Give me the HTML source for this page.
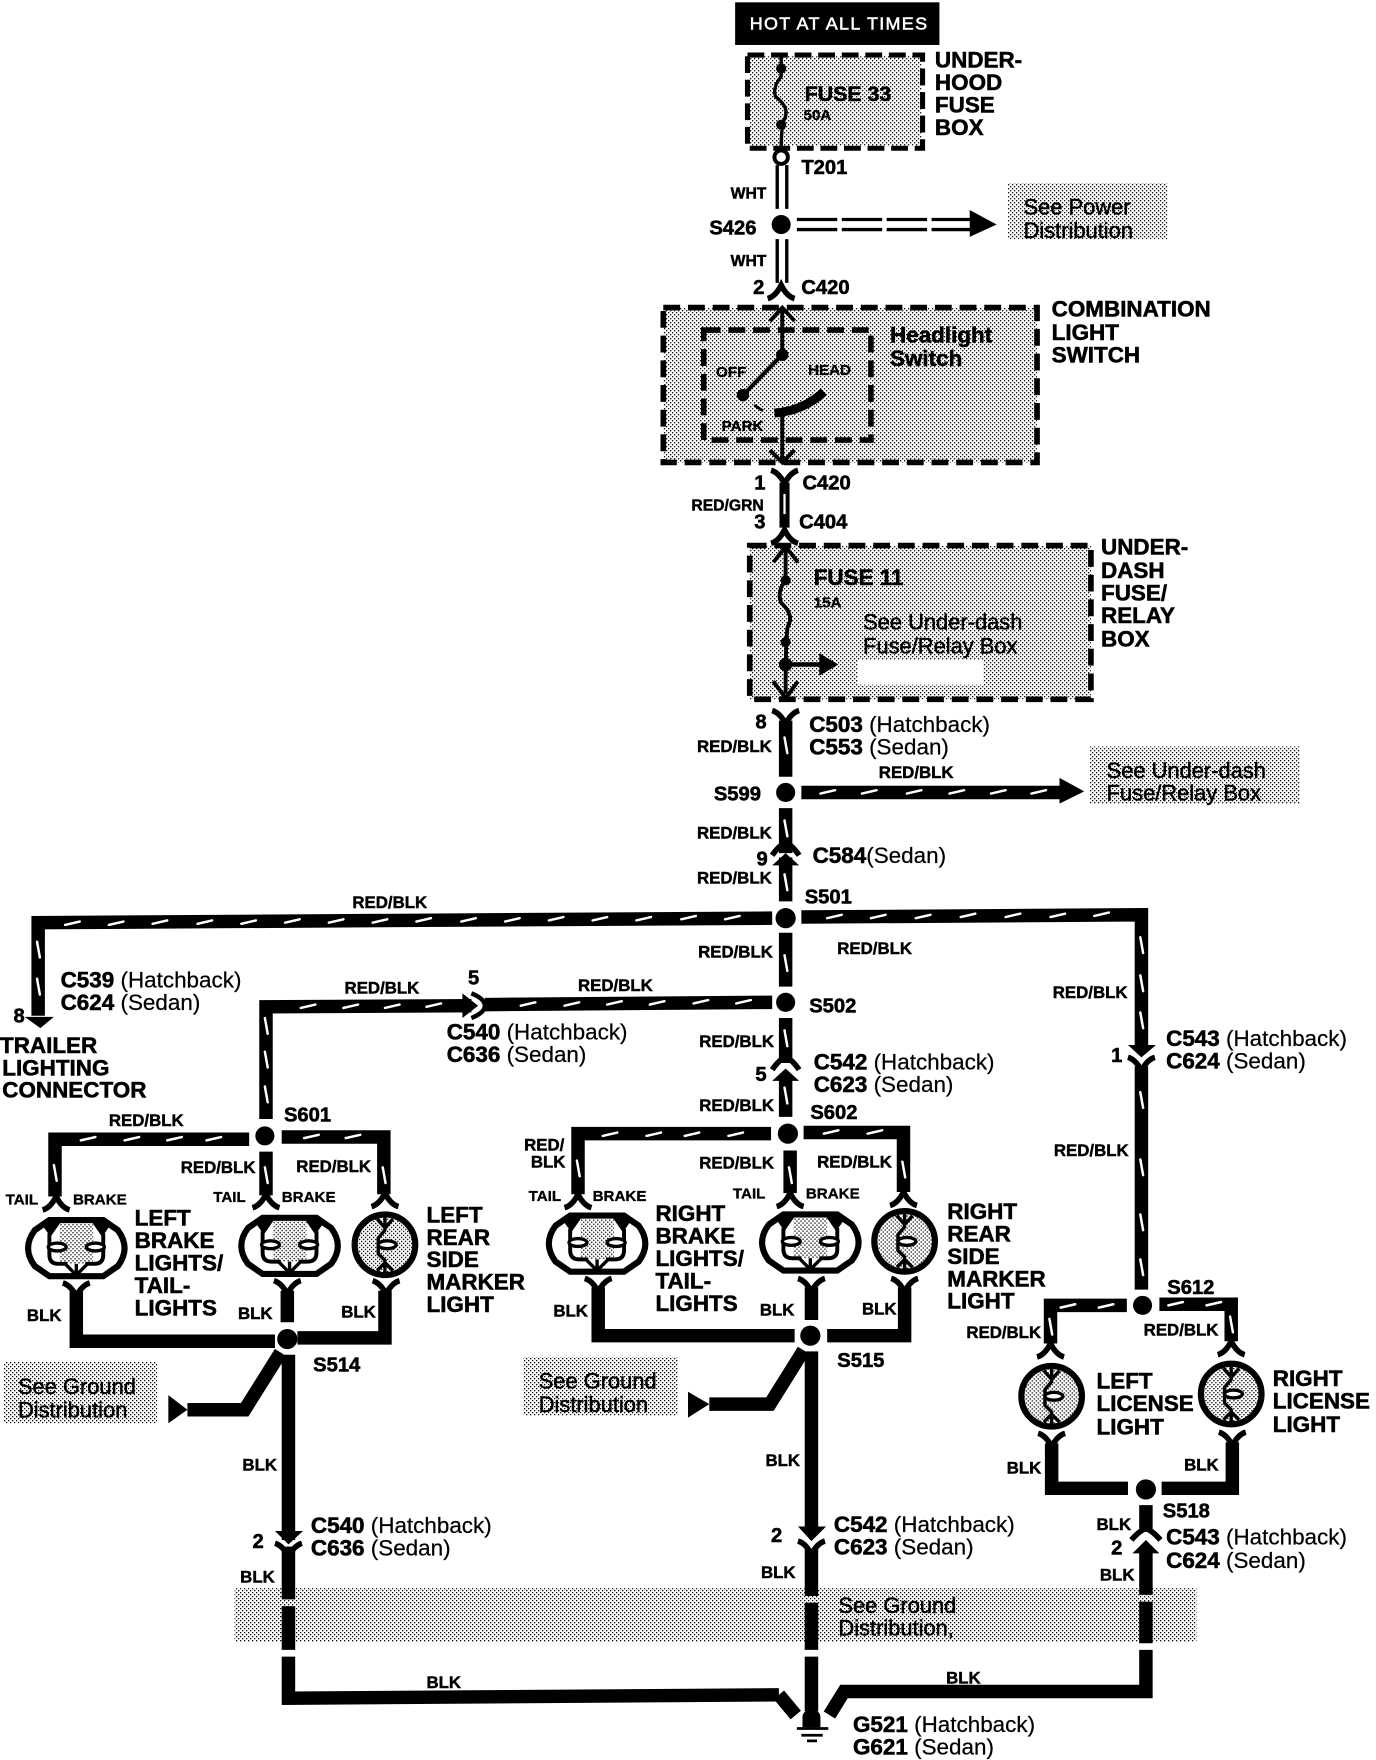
<!DOCTYPE html>
<html><head><meta charset="utf-8"><style>
html,body{margin:0;padding:0;background:#fff;width:1376px;height:1760px;overflow:hidden}
svg{display:block}
text{font-family:"Liberation Sans",sans-serif;fill:#000;stroke:#000}
.h{font-size:20px;font-weight:bold;stroke-width:.5}
.c{font-size:20px;font-weight:bold;stroke-width:.5}
.c tspan{font-weight:normal;stroke-width:.2}
.l{font-size:15px;font-weight:bold;stroke-width:.4}
.s{font-size:19.5px;stroke-width:.45}
.t{font-size:13.5px;font-weight:bold;stroke-width:.3}
.w{fill:none;stroke:#000;stroke-width:12;stroke-linejoin:miter}
.dd{fill:none;stroke:#fff;stroke-width:2.2;stroke-linecap:round}
.fl{fill:#000;stroke:none}
</style></head><body>
<svg width="1376" height="1760" viewBox="0 0 1226 1568" xmlns="http://www.w3.org/2000/svg">
<defs>
<pattern id="d" patternUnits="userSpaceOnUse" width="3.5638" height="3.5638">
<rect x="0" y="0" width="1.15" height="1.15" fill="#000"/>
<rect x="1.782" y="1.782" width="1.15" height="1.15" fill="#000"/>
</pattern>
<path id="yd" d="M-12-9Q-5-7 0 3Q5-7 12-9" fill="none" stroke="#000" stroke-width="5"/>
<path id="yu" d="M-12 9Q-5 7 0-3Q5 7 12 9" fill="none" stroke="#000" stroke-width="5"/>
<g id="lamp2">
<path d="M-24-25H24L37-16Q43-8 43 0Q43 8 37 16L24 25H-24L-37 16Q-43 8-43 0Q-43-8-37-16Z" fill="#fff" stroke="#000" stroke-width="5.500"/>
<rect x="-15" y="-22" width="30" height="36" fill="url(#d)"/>
<path d="M-24-13V6Q-24 14-16 14H-8M8 14H16Q24 14 24 6V-13" fill="none" stroke="#000" stroke-width="3.500"/>
<path d="M-32-23H-14L-23-10ZM14-23H32L23-10Z" class="fl"/>
<path d="M-10 14L0 24 10 14M0 14V24" fill="none" stroke="#000" stroke-width="3"/>
<ellipse cx="-17" cy="-1" rx="8" ry="3.500" fill="#fff" stroke="#000" stroke-width="3"/>
<ellipse cx="17" cy="-1" rx="8" ry="3.500" fill="#fff" stroke="#000" stroke-width="3"/>
</g>
<g id="lamp1">
<circle r="27" fill="url(#d)" stroke="#000" stroke-width="5.500"/>
<path d="M0-26V-13L-6-6V8L0 14V26M-7-23L0-15 7-23M-7 23L0 16 7 23" fill="none" stroke="#000" stroke-width="3"/>
<ellipse cx="2" cy="0" rx="8" ry="3.500" fill="#fff" stroke="#000" stroke-width="3"/>
</g>
</defs>

<!-- shaded boxes -->
<rect x="668" y="50" width="153" height="80" fill="url(#d)"/>
<rect x="898" y="163" width="142" height="50" fill="url(#d)"/>
<rect x="591" y="274" width="333" height="138" fill="url(#d)"/>
<rect x="668" y="486" width="304" height="137" fill="url(#d)"/>
<rect x="764" y="588" width="112" height="22" fill="#fff"/>
<rect x="971" y="665" width="187" height="51" fill="url(#d)"/>
<rect x="3" y="1213" width="137" height="55" fill="url(#d)"/>
<rect x="466" y="1209" width="138" height="52" fill="url(#d)"/>
<rect x="209" y="1415" width="857" height="48" fill="url(#d)"/>

<!-- top -->
<rect x="655" y="2" width="182" height="38" fill="#000"/>
<text x="668" y="26" font-size="16" textLength="158" lengthAdjust="spacing" style="fill:#fff;stroke:#fff;stroke-width:.5">HOT AT ALL TIMES</text>
<rect x="666" y="49" width="156" height="83" fill="none" stroke="#000" stroke-width="4.500" stroke-dasharray="15 6"/>
<path d="M696 49V68Q688 78 691 86Q704 96 699 106Q696 112 696 134" fill="none" stroke="#000" stroke-width="3"/>
<circle cx="696" cy="61" r="4.500" class="fl"/><circle cx="696" cy="111" r="4.500" class="fl"/>
<circle cx="696" cy="140" r="6" fill="#fff" stroke="#000" stroke-width="3.500"/>
<path d="M692.500 147V186M701 147V186M692.500 213V252M701 213V252" fill="none" stroke="#000" stroke-width="3"/>
<circle cx="696" cy="200" r="8.500" class="fl"/>
<path d="M710 195.500H866M710 204.500H866" fill="none" stroke="#000" stroke-width="3" stroke-dasharray="36 4"/>
<path d="M864 187L888 200 864 211Z" class="fl"/>
<use href="#yu" x="696" y="257"/>

<!-- combination switch -->
<rect x="591" y="274" width="333" height="138" fill="none" stroke="#000" stroke-width="5" stroke-dasharray="15 7"/>
<rect x="627" y="294" width="149" height="98" fill="none" stroke="#000" stroke-width="5" stroke-dasharray="15 7"/>
<path d="M697 276V316L662 352" fill="none" stroke="#000" stroke-width="3.500"/>
<path d="M686 286L697 274 708 286" fill="none" stroke="#000" stroke-width="3.500"/>
<circle cx="697" cy="316" r="5.500" class="fl"/><circle cx="662" cy="352" r="5.500" class="fl"/>
<path d="M690 368Q716 366 734 349" fill="none" stroke="#000" stroke-width="8"/>
<path d="M672 361L680 366" fill="none" stroke="#000" stroke-width="2.500"/>
<path d="M697 366V412M686 401L697 412 708 401" fill="none" stroke="#000" stroke-width="3.500"/>
<use href="#yd" x="699" y="428"/>
<path d="M699 430V470" fill="none" stroke="#000" stroke-width="9"/>
<path d="M699 440V458" stroke="#fff" stroke-width="2"/>
<use href="#yu" x="699" y="475"/>

<!-- under-dash -->
<rect x="668" y="486" width="304" height="137" fill="none" stroke="#000" stroke-width="5" stroke-dasharray="15 7"/>
<path d="M700 490V517Q692 527 696 537Q708 548 702 558Q700 565 700 618M689 501L700 487 711 501M689 607L700 622 711 607" fill="none" stroke="#000" stroke-width="3.500"/>
<circle cx="700" cy="517" r="4.500" class="fl"/><circle cx="700" cy="572" r="4.500" class="fl"/><circle cx="700" cy="592" r="6" class="fl"/>
<path d="M700 592H730" stroke="#000" stroke-width="4"/>
<path d="M730 582L747 592 730 602Z" class="fl"/>

<!-- main trunk -->
<use href="#yd" x="700" y="642"/>
<path class="w" d="M700 642V692M700 720V760M700 764V803M700 831V879M700 907V947M700 959V995"/>
<path d="M688 762Q695 752 700 751Q705 752 712 762" fill="none" stroke="#000" stroke-width="5"/>
<path d="M688 771L700 760 712 771Z" class="fl"/>
<path d="M688 953Q695 943 700 942Q705 943 712 953" fill="none" stroke="#000" stroke-width="5"/>
<path d="M688 963L700 952 712 963Z" class="fl"/>
<circle cx="700" cy="706" r="8.500" class="fl"/>
<circle cx="700" cy="818" r="9" class="fl"/>
<circle cx="700" cy="893" r="8.500" class="fl"/>
<circle cx="702" cy="1010" r="9" class="fl"/>

<!-- S599 branch -->
<path class="w" d="M714 706H946"/>
<path d="M944 693L966 705 944 716Z" class="fl"/>

<!-- S501 branches -->
<path class="w" d="M688 818L34 822V905"/>
<path d="M22 906H48L36 916Z" class="fl"/>
<path class="w" d="M714 817L1017 815V932"/>
<path d="M1005 931H1030L1017 942Z" class="fl"/>
<use href="#yd" x="1017" y="951"/>
<path class="w" d="M1017 950V1149"/>

<!-- S502 branch -->
<path class="w" d="M688 893L432 895M420 896L237 897V997"/>
<path d="M412 885L426 896 412 907Z" class="fl"/>
<path d="M420 885Q432 890 432 896Q432 902 420 907" fill="none" stroke="#000" stroke-width="4"/>

<!-- S601 -->
<circle cx="236" cy="1012" r="8.500" class="fl"/>
<path class="w" d="M222 1015H49V1066"/>
<path class="w" d="M251 1013H342V1064"/>
<path class="w" d="M237 1026V1065"/>
<use href="#yu" x="50" y="1069"/><use href="#yu" x="237" y="1067"/><use href="#yu" x="343" y="1066"/>
<use href="#lamp2" x="68" y="1112"/><use href="#lamp2" x="258" y="1110"/><use href="#lamp1" x="343" y="1109"/>
<use href="#yd" x="68" y="1152"/><use href="#yd" x="256" y="1150"/><use href="#yd" x="344" y="1150"/>

<!-- S514 -->
<path class="w" d="M68 1150V1195H245M256 1150V1178M343 1150V1192H265"/>
<circle cx="256" cy="1193" r="9" class="fl"/>
<path class="w" d="M250 1205L218 1256H167M257 1207V1372M257 1378V1425M257 1431V1470M257 1476V1513L694 1510"/>
<path d="M150 1243L167 1256 150 1268Z" class="fl"/>
<path d="M245 1364H270L257 1376Z" class="fl"/>
<use href="#yd" x="257" y="1384"/>

<!-- S602 -->
<path class="w" d="M687 1010H515V1064"/>
<path class="w" d="M716 1009H805V1062"/>
<path class="w" d="M704 1025V1063"/>
<use href="#yu" x="515" y="1067"/><use href="#yu" x="704" y="1066"/><use href="#yu" x="805" y="1065"/>
<use href="#lamp2" x="532" y="1108"/><use href="#lamp2" x="722" y="1107"/><use href="#lamp1" x="806" y="1106"/>
<use href="#yd" x="533" y="1148"/><use href="#yd" x="723" y="1148"/><use href="#yd" x="806" y="1148"/>

<!-- S515 -->
<path class="w" d="M533 1147V1190H708M723 1147V1176M806 1147V1190H737"/>
<circle cx="722" cy="1190" r="9" class="fl"/>
<path class="w" d="M716 1203L686 1251H632M723 1204V1366M723 1380V1422M723 1428V1470M723 1476V1525"/>
<path d="M613 1240L632 1251 613 1263Z" class="fl"/>
<path d="M711 1360H736L723 1373Z" class="fl"/>
<use href="#yd" x="723" y="1382"/>

<!-- S612 -->
<circle cx="1018" cy="1163" r="8.500" class="fl"/>
<path class="w" d="M1004 1163H936V1197"/>
<path class="w" d="M1033 1162H1097V1195"/>
<use href="#yu" x="936" y="1200"/><use href="#yu" x="1097" y="1198"/>
<use href="#lamp1" x="937" y="1244"/><use href="#lamp1" x="1097" y="1242"/>
<use href="#yd" x="937" y="1286"/><use href="#yd" x="1098" y="1285"/>
<path class="w" d="M937 1286V1326H1005M1098 1285V1326H1035"/>
<circle cx="1021" cy="1327" r="9" class="fl"/>
<path class="w" d="M1021 1341V1362M1021 1380V1421M1021 1427V1464M1021 1470V1507H752L739 1528"/>
<path d="M1008 1372Q1016 1363 1021 1362Q1026 1363 1034 1372" fill="none" stroke="#000" stroke-width="5"/>
<path d="M1009 1384L1021 1372 1033 1384Z" class="fl"/>

<!-- white wire tracer dashes -->
<path class="dd" d="M58 824l13-3M97 824l13-3M136 823l13-3M176 823l13-3M215 823l13-3M254 822l13-3M293 822l13-3M332 822l13-3M371 821l13-3M411 821l13-3M450 821l13-3M489 820l13-3M528 820l13-3M567 820l13-3M607 819l13-3M646 819l13-3
M737 818l13-3M776 818l13-3M816 818l13-3M856 817l13-3M896 817l13-3M936 817l13-3M975 816l13-3
M731 707l13-3M768 707l13-3M808 707l13-3M846 707l13-3M883 707l13-3M919 707l13-3
M268 898l13-3M306 898l13-3M343 898l13-3M380 897l13-3M464 896l13-3M503 896l13-3M541 895l13-3M579 895l13-3M618 894l13-3M656 894l13-3
M72 1016l13-3M111 1016l13-3M149 1016l13-3M184 1016l13-3M271 1014l13-3M308 1014l13-3
M537 1012l13-3M576 1012l13-3M610 1012l13-3M649 1012l13-3M734 1010l13-3M773 1010l13-3
M945 1165l13-3M979 1165l13-3M1041 1163l13-3M1075 1163l13-3"/>
<path class="dd" d="M699 657l2.500 14M699 731l2.500 14M699 779l2.500 14M699 851l2.500 14M699 918l2.500 14M699 969l2.500 14
M33 839l2.500 14M33 872l2.500 14M236 907l2.500 14M236 937l2.500 14M236 968l2.500 14
M48 1038l2.500 14M236 1040l2.500 14M341 1040l2.500 14M514 1034l2.500 14M703 1040l2.500 14M804 1035l2.500 14
M935 1175l2.500 14M1096 1173l2.500 14
M1016 835l2.500 14M1016 869l2.500 14M1016 902l2.500 14M1016 973l2.500 14M1016 1033l2.500 14M1016 1082l2.500 14M1016 1122l2.500 14"/>

<!-- ground -->
<path class="w" d="M694 1510L709 1528"/>
<path d="M715 1539V1530Q715 1524 723 1524Q731 1524 731 1530V1539Z" class="fl"/>
<path d="M710 1540H738M714 1546H733M719 1551H728" stroke="#000" stroke-width="2.500"/>

<!-- labels -->
<text class="h" x="833" y="60">UNDER-</text><text class="h" x="833" y="80">HOOD</text><text class="h" x="833" y="100">FUSE</text><text class="h" x="833" y="120">BOX</text>
<text class="c" x="717" y="90" style="font-size:19px">FUSE 33</text><text class="t" x="716" y="107">50A</text>
<text class="c" x="714" y="155" style="font-size:18px">T201</text>
<text class="l" x="651" y="177" style="font-size:14px">WHT</text><text class="l" x="651" y="237" style="font-size:14px">WHT</text>
<text class="c" x="632" y="209" style="font-size:18px">S426</text>
<text class="s" x="912" y="191">See Power</text><text class="s" x="912" y="212">Distribution</text>
<text class="c" x="671" y="262" style="font-size:18px">2</text><text class="c" x="714" y="262" style="font-size:18px">C420</text>
<text class="h" x="937" y="282">COMBINATION</text><text class="h" x="937" y="303">LIGHT</text><text class="h" x="937" y="323">SWITCH</text>
<text class="c" x="793" y="305">Headlight</text><text class="c" x="793" y="326">Switch</text>
<text class="t" x="638" y="336">OFF</text><text class="t" x="720" y="334">HEAD</text><text class="t" x="643" y="384">PARK</text>
<text class="c" x="672" y="436" style="font-size:18px">1</text><text class="c" x="715" y="436" style="font-size:18px">C420</text>
<text class="l" x="616" y="455" style="font-size:14px">RED/GRN</text>
<text class="c" x="672" y="471" style="font-size:18px">3</text><text class="c" x="712" y="471" style="font-size:18px">C404</text>
<text class="c" x="725" y="521">FUSE 11</text><text class="t" x="725" y="541">15A</text>
<text class="s" x="769" y="561">See Under-dash</text><text class="s" x="769" y="582">Fuse/Relay Box</text>
<text class="h" x="981" y="494">UNDER-</text><text class="h" x="981" y="515">DASH</text><text class="h" x="981" y="535">FUSE/</text><text class="h" x="981" y="555">RELAY</text><text class="h" x="981" y="576">BOX</text>
<text class="c" x="673" y="649" style="font-size:18px">8</text>
<text class="c" x="721" y="652">C503 <tspan>(Hatchback)</tspan></text><text class="c" x="721" y="672">C553 <tspan>(Sedan)</tspan></text>
<text class="l" x="621" y="670">RED/BLK</text><text class="l" x="783" y="693">RED/BLK</text>
<text class="c" x="636" y="713" style="font-size:18px">S599</text>
<text class="s" x="986" y="693">See Under-dash</text><text class="s" x="986" y="713">Fuse/Relay Box</text>
<text class="l" x="621" y="747">RED/BLK</text><text class="l" x="621" y="787">RED/BLK</text>
<text class="c" x="674" y="771" style="font-size:18px">9</text>
<text class="c" x="724" y="769">C584<tspan>(Sedan)</tspan></text>
<text class="c" x="717" y="805" style="font-size:18px">S501</text>
<text class="l" x="314" y="809">RED/BLK</text>
<text class="l" x="622" y="853">RED/BLK</text><text class="l" x="746" y="850">RED/BLK</text>
<text class="l" x="938" y="889">RED/BLK</text><text class="l" x="939" y="1030">RED/BLK</text>
<text class="c" x="54" y="880">C539 <tspan>(Hatchback)</tspan></text><text class="c" x="54" y="900">C624 <tspan>(Sedan)</tspan></text>
<text class="c" x="12" y="911" style="font-size:18px">8</text>
<text class="h" x="0" y="938">TRAILER</text><text class="h" x="2" y="958">LIGHTING</text><text class="h" x="2" y="978">CONNECTOR</text>
<text class="l" x="307" y="885">RED/BLK</text><text class="l" x="515" y="883">RED/BLK</text>
<text class="c" x="417" y="877" style="font-size:18px">5</text>
<text class="c" x="398" y="926">C540 <tspan>(Hatchback)</tspan></text><text class="c" x="398" y="946">C636 <tspan>(Sedan)</tspan></text>
<text class="c" x="721" y="902" style="font-size:18px">S502</text>
<text class="l" x="623" y="933">RED/BLK</text><text class="l" x="623" y="990">RED/BLK</text>
<text class="c" x="673" y="963" style="font-size:18px">5</text>
<text class="c" x="725" y="953">C542 <tspan>(Hatchback)</tspan></text><text class="c" x="725" y="973">C623 <tspan>(Sedan)</tspan></text>
<text class="c" x="722" y="997" style="font-size:18px">S602</text>
<text class="c" x="990" y="946" style="font-size:18px">1</text>
<text class="c" x="1039" y="932">C543 <tspan>(Hatchback)</tspan></text><text class="c" x="1039" y="952">C624 <tspan>(Sedan)</tspan></text>
<text class="c" x="253" y="999" style="font-size:18px">S601</text>
<text class="l" x="97" y="1003">RED/BLK</text><text class="l" x="161" y="1045">RED/BLK</text><text class="l" x="264" y="1044">RED/BLK</text>
<text class="t" x="5" y="1073">TAIL</text><text class="t" x="65" y="1073">BRAKE</text><text class="t" x="190" y="1071">TAIL</text><text class="t" x="251" y="1071">BRAKE</text>
<text class="h" x="120" y="1092">LEFT</text><text class="h" x="120" y="1112">BRAKE</text><text class="h" x="120" y="1132">LIGHTS/</text><text class="h" x="120" y="1152">TAIL-</text><text class="h" x="120" y="1172">LIGHTS</text>
<text class="h" x="380" y="1089">LEFT</text><text class="h" x="380" y="1109">REAR</text><text class="h" x="380" y="1129">SIDE</text><text class="h" x="380" y="1149">MARKER</text><text class="h" x="380" y="1169">LIGHT</text>
<text class="l" x="24" y="1177">BLK</text><text class="l" x="212" y="1175">BLK</text><text class="l" x="304" y="1174">BLK</text>
<text class="c" x="279" y="1222" style="font-size:18px">S514</text>
<text class="s" x="16" y="1242">See Ground</text><text class="s" x="16" y="1263">Distribution</text>
<text class="l" x="467" y="1025">RED/</text><text class="l" x="473" y="1040">BLK</text>
<text class="l" x="623" y="1041">RED/BLK</text><text class="l" x="728" y="1040">RED/BLK</text>
<text class="t" x="471" y="1070">TAIL</text><text class="t" x="528" y="1070">BRAKE</text><text class="t" x="653" y="1068">TAIL</text><text class="t" x="718" y="1068">BRAKE</text>
<text class="h" x="584" y="1088">RIGHT</text><text class="h" x="584" y="1108">BRAKE</text><text class="h" x="584" y="1128">LIGHTS/</text><text class="h" x="584" y="1148">TAIL-</text><text class="h" x="584" y="1168">LIGHTS</text>
<text class="h" x="844" y="1086">RIGHT</text><text class="h" x="844" y="1106">REAR</text><text class="h" x="844" y="1126">SIDE</text><text class="h" x="844" y="1146">MARKER</text><text class="h" x="844" y="1166">LIGHT</text>
<text class="l" x="493" y="1173">BLK</text><text class="l" x="677" y="1172">BLK</text><text class="l" x="768" y="1171">BLK</text>
<text class="c" x="746" y="1218" style="font-size:18px">S515</text>
<text class="s" x="480" y="1237">See Ground</text><text class="s" x="480" y="1258">Distribution</text>
<text class="c" x="1040" y="1153" style="font-size:18px">S612</text>
<text class="l" x="861" y="1192">RED/BLK</text><text class="l" x="1019" y="1190">RED/BLK</text>
<text class="h" x="977" y="1237">LEFT</text><text class="h" x="977" y="1257">LICENSE</text><text class="h" x="977" y="1278">LIGHT</text>
<text class="h" x="1134" y="1235">RIGHT</text><text class="h" x="1134" y="1255">LICENSE</text><text class="h" x="1134" y="1276">LIGHT</text>
<text class="l" x="897" y="1313">BLK</text><text class="l" x="1055" y="1310">BLK</text>
<text class="c" x="1036" y="1352" style="font-size:18px">S518</text>
<text class="l" x="977" y="1363">BLK</text><text class="c" x="990" y="1385" style="font-size:18px">2</text><text class="l" x="980" y="1408">BLK</text>
<text class="c" x="1039" y="1376">C543 <tspan>(Hatchback)</tspan></text><text class="c" x="1039" y="1397">C624 <tspan>(Sedan)</tspan></text>
<text class="l" x="216" y="1310">BLK</text><text class="c" x="225" y="1379" style="font-size:18px">2</text><text class="l" x="214" y="1410">BLK</text>
<text class="c" x="277" y="1366">C540 <tspan>(Hatchback)</tspan></text><text class="c" x="277" y="1386">C636 <tspan>(Sedan)</tspan></text>
<text class="l" x="682" y="1306">BLK</text><text class="c" x="687" y="1374" style="font-size:18px">2</text><text class="l" x="678" y="1406">BLK</text>
<text class="c" x="743" y="1365">C542 <tspan>(Hatchback)</tspan></text><text class="c" x="743" y="1385">C623 <tspan>(Sedan)</tspan></text>
<text class="s" x="747" y="1437">See Ground</text><text class="s" x="747" y="1457">Distribution,</text>
<text class="l" x="380" y="1504">BLK</text><text class="l" x="843" y="1500">BLK</text>
<text class="c" x="760" y="1543">G521 <tspan>(Hatchback)</tspan></text><text class="c" x="760" y="1563">G621 <tspan>(Sedan)</tspan></text>
</svg>
</body></html>
